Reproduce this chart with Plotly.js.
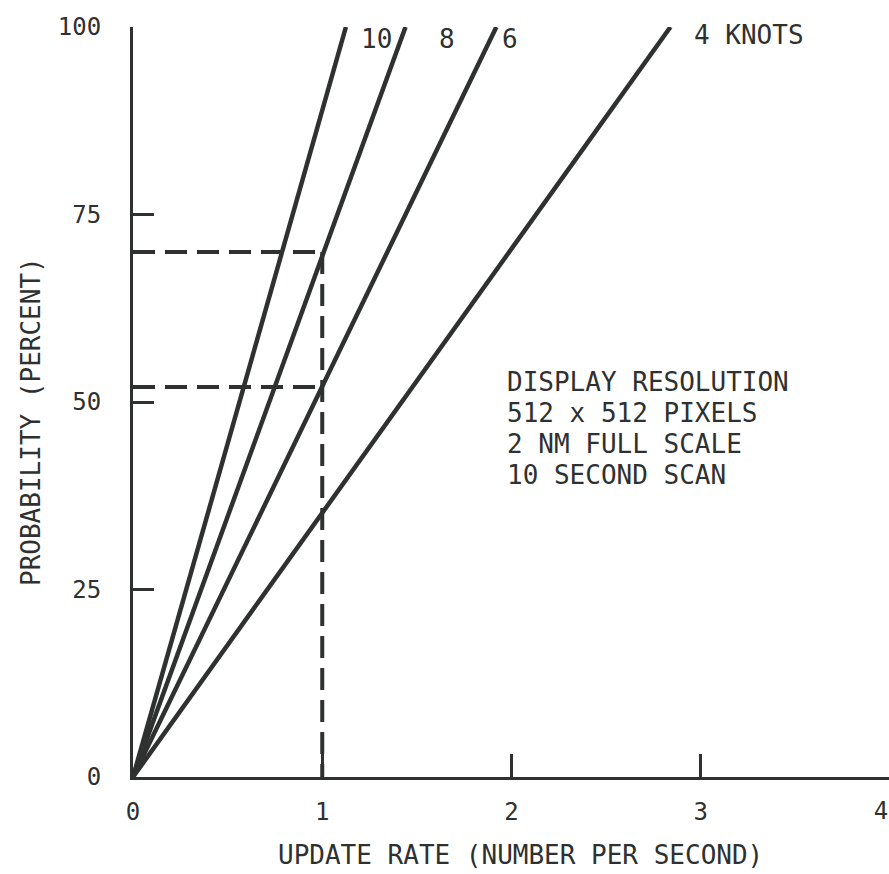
<!DOCTYPE html>
<html>
<head>
<meta charset="utf-8">
<script src="https://cdn.plot.ly/plotly-3.0.1.min.js"></script>
<style>
html, body { margin: 0; padding: 0; background: #fff; overflow: hidden; }
#chart { width: 900px; height: 874px; }
</style>
</head>
<body>
<div id="chart"></div>
<script>
// Data
const knotLabels = ["10", "8", "6", "4 KNOTS"];
const speedKnots = [10, 8, 6, 4];
const rateAt100 = [1.125, 1.44, 1.92, 2.84];     // update rate where probability reaches 100 %
const originRate = 0;
const originProb = 0;
const fullProb = 100;
const refRate = 1;                                 // dashed reference at 1 update per second
const refProbs = [70, 52];                         // probabilities read for 8 and 6 knots
const xTickVals = [0, 1, 2, 3];
const xTickText = ["0", "1", "2", "3"];
const xEdgeTickVals = [4];
const xEdgeTickText = ["4"];
const yTickVals = [0, 25, 50, 75, 100];
const yTickText = ["0", "25", "50", "75", "100"];
const noteLines = ["DISPLAY RESOLUTION", "512 x 512 PIXELS", "2 NM FULL SCALE", "10 SECOND SCAN"];
const labelX = [1.194, 1.606, 1.939, 2.954];
const labelY = [98.4, 98.4, 98.4, 98.9];

const ink = "#2f3030";
const FONT = "DejaVu Sans Mono, Liberation Mono, monospace";

const traces = [];
for (let i = 0; i < speedKnots.length; i++) {
  traces.push({
    type: "scatter", mode: "lines",
    x: [originRate, rateAt100[i]], y: [originProb, fullProb],
    line: { color: ink, width: 4.5 },
    hoverinfo: "skip", showlegend: false
  });
}
// horizontal dashed reference lines
refProbs.forEach(p => {
  traces.push({
    type: "scatter", mode: "lines",
    x: [originRate, refRate], y: [p, p],
    line: { color: ink, width: 4, dash: "22px,10px" },
    hoverinfo: "skip", showlegend: false
  });
});
// vertical dashed line at 1 update per second
traces.push({
  type: "scatter", mode: "lines",
  x: [refRate, refRate], y: [Math.max(...refProbs), originProb],
  line: { color: ink, width: 4, dash: "22px,10px" },
  hoverinfo: "skip", showlegend: false
});
// empty trace that only registers the overlay axis carrying the edge tick label
traces.push({
  type: "scatter", mode: "lines", x: [], y: [],
  xaxis: "x2", yaxis: "y", hoverinfo: "skip", showlegend: false
});

const annotations = [];
knotLabels.forEach((t, i) => {
  annotations.push({
    x: labelX[i], y: labelY[i], xref: "x", yref: "y",
    text: t, showarrow: false, xanchor: "left", yanchor: "middle",
    font: { family: FONT, size: 26, color: ink }
  });
});
noteLines.forEach((t, i) => {
  annotations.push({
    x: (505 - 133) / 757, y: (777 - (382 + i * 31)) / 750, xref: "paper", yref: "paper",
    text: t, showarrow: false, xanchor: "left", yanchor: "middle",
    font: { family: FONT, size: 26, color: ink }
  });
});
annotations.push({
  x: (520 - 133) / 757, y: (777 - 855) / 750, xref: "paper", yref: "paper",
  text: "UPDATE RATE (NUMBER PER SECOND)", showarrow: false,
  xanchor: "center", yanchor: "middle",
  font: { family: FONT, size: 26, color: ink }
});
annotations.push({
  x: (31 - 133) / 757, y: (777 - 422) / 750, xref: "paper", yref: "paper",
  text: "PROBABILITY (PERCENT)", showarrow: false, textangle: -90,
  xanchor: "center", yanchor: "middle",
  font: { family: FONT, size: 26, color: ink }
});

const layout = {
  width: 900, height: 874,
  margin: { l: 133, r: 10, t: 27, b: 97 },
  paper_bgcolor: "#ffffff", plot_bgcolor: "#ffffff",
  showlegend: false,
  xaxis: {
    range: [0, 4], tickvals: xTickVals, ticktext: xTickText,
    showgrid: false, zeroline: false, showline: true, linecolor: ink, linewidth: 3,
    ticks: "inside", ticklen: 23, tickwidth: 3, tickcolor: ink,
    ticklabelstandoff: 11,
    tickfont: { family: FONT, size: 24, color: ink }
  },
  xaxis2: {
    overlaying: "x", anchor: "y", side: "bottom",
    range: [0, 4], tickvals: xEdgeTickVals, ticktext: xEdgeTickText,
    showgrid: false, zeroline: false, showline: false,
    ticks: "inside", ticklen: 0, tickwidth: 0, tickcolor: ink,
    ticklabelstandoff: 17, ticklabelshift: -9,
    tickfont: { family: FONT, size: 24, color: ink }
  },
  yaxis: {
    range: [0, 100], tickvals: yTickVals, ticktext: yTickText,
    showgrid: false, zeroline: false, showline: true, linecolor: ink, linewidth: 3,
    ticks: "inside", ticklen: 21, tickwidth: 3, tickcolor: ink,
    ticklabelstandoff: 24,
    tickfont: { family: FONT, size: 24, color: ink }
  },
  annotations: annotations
};

Plotly.newPlot("chart", traces, layout, { staticPlot: true, displayModeBar: false });
</script>
</body>
</html>
